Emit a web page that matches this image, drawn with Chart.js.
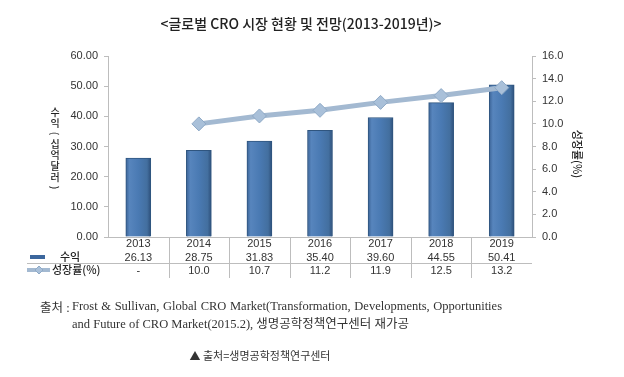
<!DOCTYPE html>
<html>
<head>
<meta charset="utf-8">
<script src="https://cdn.jsdelivr.net/npm/chart.js@4"></script>
<style>
  body { margin: 0; background: #fff; }
  #wrap { position: relative; width: 624px; height: 377px; overflow: hidden; }
  #chart { position: absolute; left: 0; top: 0; }
  .txt { position: absolute; white-space: nowrap; color: #222; }
  #title { left: 0; width: 602px; top: 13px; text-align: center; font: 500 14px "Noto Sans CJK KR", sans-serif; }
  #src1 { left: 40px; top: 297px; font: 12.5px "Liberation Serif", "Noto Sans CJK KR", serif; color: #333; }
  #src2 { left: 72px; top: 297px; width: 430px; font: 12.5px "Liberation Serif", "Noto Sans CJK KR", serif; color: #333; white-space: normal; text-align: justify; text-align-last: left; line-height: 18px; }
  #caption { left: 0; width: 520px; top: 347px; text-align: center; font: 11px "Noto Sans CJK KR", sans-serif; color: #333; }
</style>
</head>
<body>
<div id="wrap">
  <canvas id="chart" width="624" height="377"></canvas>
  <div class="txt" id="title">&lt;글로벌 CRO 시장 현황 및 전망(2013-2019년)&gt;</div>
  <div class="txt" id="src1">출처 :</div>
  <div class="txt" id="src2">Frost &amp; Sullivan, Global CRO Market(Transformation, Developments, Opportunities and Future of CRO Market(2015.2), 생명공학정책연구센터 재가공</div>
  <div class="txt" id="caption">▲ 출처=생명공학정책연구센터</div>
</div>
<script>
const years = ['2013', '2014', '2015', '2016', '2017', '2018', '2019'];
const revenue = [26.13, 28.75, 31.83, 35.40, 39.60, 44.55, 50.41];
const growth = [null, 10.0, 10.7, 11.2, 11.9, 12.5, 13.2];
const revenueLabel = '수익';
const growthLabel = '성장률(%)';
const leftTitle = '수익(십억달러)';
const rightTitle = '성장률(%)';

const tickFont = { family: '"Liberation Sans", Arial, sans-serif', size: 11 };
const korFont = '500 11px "Noto Sans CJK KR", sans-serif';
const axisColor = '#bdbdbd';

// horizontal shading on each bar
function barFill(context) {
    const chart = context.chart;
    if (!chart.chartArea || !chart.scales.x) return '#4a78b0';
    const cx = chart.scales.x.getPixelForValue(context.dataIndex);
    const g = chart.ctx.createLinearGradient(cx - 12.5, 0, cx + 12.5, 0);
    g.addColorStop(0, '#3b6396');
    g.addColorStop(0.15, '#5785bd');
    g.addColorStop(0.5, '#4a7ab3');
    g.addColorStop(0.85, '#436f9f');
    g.addColorStop(1, '#2d4f7a');
    return g;
}

// table lines, legend keys and axis titles
const tablePlugin = {
    id: 'tablePlugin',
    afterDraw(chart) {
        const ctx = chart.ctx;
        const x = chart.scales.x;
        const area = chart.chartArea;
        const bottom = area.bottom;
        ctx.save();
        ctx.strokeStyle = axisColor;
        ctx.lineWidth = 1;
        ctx.beginPath();
        ctx.moveTo(27, bottom + 26.5);
        ctx.lineTo(area.right, bottom + 26.5);
        for (let i = 1; i < years.length; i++) {
            const bx = Math.round((x.getPixelForValue(i - 1) + x.getPixelForValue(i)) / 2) + 0.5;
            ctx.moveTo(bx, bottom);
            ctx.lineTo(bx, bottom + 41);
        }
        ctx.stroke();

        // legend keys
        ctx.fillStyle = '#3c679d';
        ctx.fillRect(30, bottom + 18, 15, 4);
        ctx.strokeStyle = '#a3b9d1';
        ctx.lineWidth = 4;
        ctx.beginPath();
        ctx.moveTo(27, bottom + 33);
        ctx.lineTo(50, bottom + 33);
        ctx.stroke();
        ctx.fillStyle = '#a9c0d9';
        ctx.strokeStyle = '#8ea9c6';
        ctx.lineWidth = 1;
        ctx.beginPath();
        ctx.moveTo(39, bottom + 29);
        ctx.lineTo(43, bottom + 33);
        ctx.lineTo(39, bottom + 37);
        ctx.lineTo(35, bottom + 33);
        ctx.closePath();
        ctx.fill();
        ctx.stroke();

        ctx.fillStyle = '#222';
        ctx.font = korFont;
        ctx.textBaseline = 'middle';
        ctx.textAlign = 'left';
        ctx.fillText(revenueLabel, 60, bottom + 20);
        ctx.fillText(growthLabel, 52, bottom + 33);

        // left title, stacked characters
        ctx.font = '500 10px "Noto Sans CJK KR", sans-serif';
        ctx.textAlign = 'center';
        const chars = Array.from(leftTitle);
        chars.forEach((ch, i) => {
            const cy = 112 + i * 10.8;
            if (ch === '(' || ch === ')') {
                ctx.save();
                ctx.translate(55, cy);
                ctx.rotate(Math.PI / 2);
                ctx.fillText(ch, 0, 0);
                ctx.restore();
            } else {
                ctx.fillText(ch, 55, cy);
            }
        });

        // right title, rotated
        ctx.font = korFont;
        ctx.save();
        ctx.translate(577, 154);
        ctx.rotate(Math.PI / 2);
        ctx.fillText(rightTitle, 0, 0);
        ctx.restore();
        ctx.restore();
    }
};

new Chart(document.getElementById('chart').getContext('2d'), {
    type: 'bar',
    data: {
        labels: years,
        datasets: [
            {
                type: 'line',
                label: growthLabel,
                data: growth,
                yAxisID: 'y1',
                order: 0,
                borderColor: '#a3b9d1',
                borderWidth: 5,
                pointStyle: 'rectRot',
                pointRadius: 7,
                pointBackgroundColor: '#a9c0d9',
                pointBorderColor: '#8ea9c6',
                pointBorderWidth: 1,
            },
            {
                label: revenueLabel,
                data: revenue,
                yAxisID: 'y',
                order: 1,
                barThickness: 25,
                backgroundColor: barFill,
                borderColor: '#2f557f',
                borderWidth: 1,
            }
        ]
    },
    options: {
        responsive: false,
        animation: false,
        layout: { padding: { top: 56, left: 0, right: 0, bottom: 0 } },
        plugins: { legend: { display: false }, tooltip: { enabled: false } },
        scales: {
            x: {
                afterFit(scale) { scale.height = 140; },
                grid: { display: false, drawTicks: false },
                border: { color: axisColor },
                ticks: {
                    color: '#333',
                    font: Object.assign({ lineHeight: 1.25 }, tickFont),
                    padding: 0,
                    maxRotation: 0,
                    autoSkip: false,
                    callback(value, i) {
                        return [years[i], revenue[i].toFixed(2), growth[i] == null ? '-' : growth[i].toFixed(1)];
                    }
                }
            },
            y: {
                position: 'left',
                min: 0,
                max: 60,
                afterFit(scale) { scale.width = 108; },
                grid: { drawOnChartArea: false, tickLength: 4, color: axisColor },
                border: { color: axisColor },
                ticks: {
                    stepSize: 10,
                    color: '#333',
                    font: tickFont,
                    padding: 6,
                    callback: v => v.toFixed(2)
                }
            },
            y1: {
                position: 'right',
                min: 0,
                max: 16,
                afterFit(scale) { scale.width = 92; },
                grid: { drawOnChartArea: false, tickLength: 4, color: axisColor },
                border: { color: axisColor },
                ticks: {
                    stepSize: 2,
                    color: '#333',
                    font: tickFont,
                    padding: 6,
                    callback: v => v.toFixed(1)
                }
            }
        }
    },
    plugins: [tablePlugin]
});
</script>
</body>
</html>
